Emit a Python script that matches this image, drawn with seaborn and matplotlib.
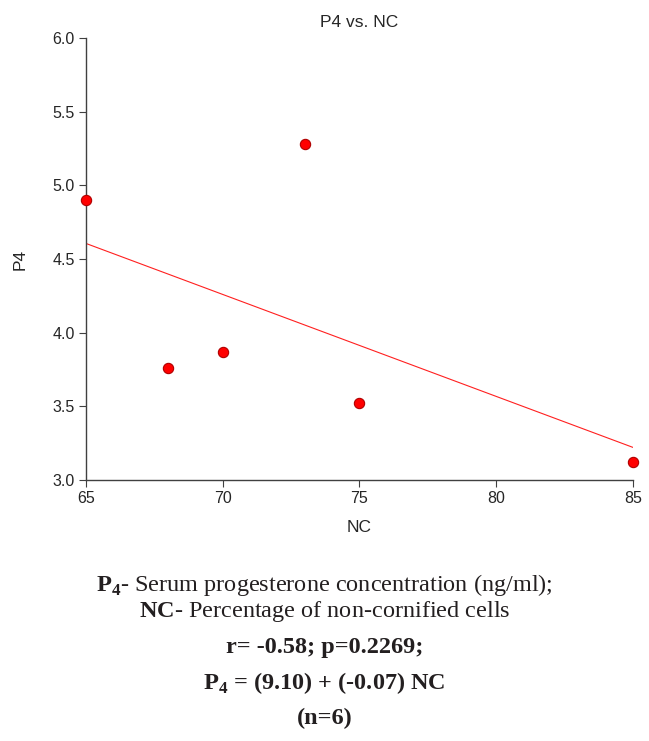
import matplotlib
matplotlib.use("Agg")
import pandas as pd
import matplotlib.pyplot as plt
import seaborn as sns

# values
nc_values = [65, 68, 70, 73, 75, 85]
p4_values = [4.90, 3.76, 3.87, 5.28, 3.52, 3.12]

x_ticks = [65, 70, 75, 80, 85]
y_ticks = [3.0, 3.5, 4.0, 4.5, 5.0, 5.5, 6.0]

caption_lines = [
    (r"$\mathbf{P}_{\mathbf{4}}$- Serum progesterone concentration (ng/ml);", "normal"),
    (r"$\mathbf{NC}$- Percentage of non-cornified cells", "normal"),
    ("r= -0.58; p=0.2269;", "bold"),
    (r"$\mathbf{P}_{\mathbf{4}}$ = (9.10) + (-0.07) NC", "bold"),
    ("(n=6)", "bold"),
]


def plot_p4_vs_nc(output_path="out.png"):
    sns.set_style("white")
    plt.rcParams["font.family"] = ["Liberation Sans", "DejaVu Sans"]
    plt.rcParams["mathtext.fontset"] = "custom"
    plt.rcParams["mathtext.rm"] = "Liberation Serif"
    plt.rcParams["mathtext.bf"] = "Liberation Serif:bold"

    df = pd.DataFrame({"NC": nc_values, "P4": p4_values})

    fig = plt.figure(figsize=(6.49, 7.41), dpi=100)
    ax = fig.add_axes([0.1325, 0.3522, 0.8428, 0.5965])

    sns.regplot(
        data=df, x="NC", y="P4", ax=ax, ci=None,
        scatter_kws=dict(s=55, color="#ff0000", edgecolors="#b00000",
                         linewidths=0.8, clip_on=False, zorder=3, alpha=1),
        line_kws=dict(color="#ff2020", lw=0.8),
    )

    ax.set_xlim(65, 85)
    ax.set_ylim(3.0, 6.0)
    ax.set_xticks(x_ticks)
    ax.set_yticks(y_ticks)
    ax.set_yticklabels([f"{v:.1f}" for v in y_ticks])
    ax.tick_params(axis="both", direction="out", length=5, width=0.8,
                   color="#404040", labelsize=11.5, pad=3,
                   left=True, bottom=True)

    for side in ["top", "right"]:
        ax.spines[side].set_visible(False)
    for side in ["left", "bottom"]:
        ax.spines[side].set_color("#404040")
        ax.spines[side].set_linewidth(1.0)

    ax.set_title("P4 vs. NC", fontsize=12.5, pad=8)
    ax.set_xlabel("NC", fontsize=12.5, labelpad=10)
    ax.set_ylabel("P4", fontsize=12.5, labelpad=18)

    ys = [585, 612, 648, 683, 718]
    for (txt, weight), ypx in zip(caption_lines, ys):
        fig.text(0.5, 1 - ypx / 741, txt, ha="center", va="center",
                 fontsize=17.5, fontweight=weight,
                 family=["Liberation Serif", "DejaVu Serif"], color="#231f20")

    fig.savefig(output_path, dpi=100)


if __name__ == "__main__":
    plot_p4_vs_nc()
